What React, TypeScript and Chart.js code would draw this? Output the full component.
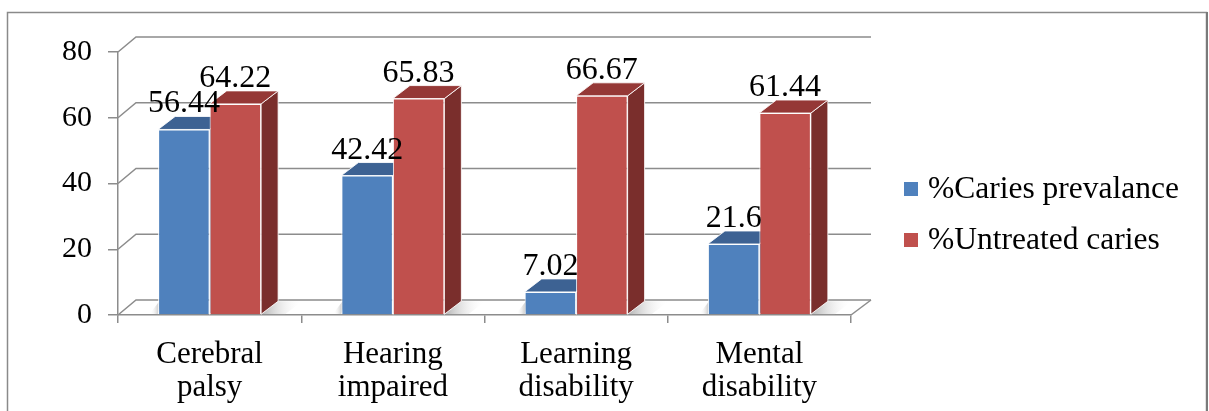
import React, { useEffect, useRef } from "react";
import { Chart, registerables } from "chart.js";

Chart.register(...registerables);

// ---- data ----
const categories: string[][] = [
  ["Cerebral", "palsy"],
  ["Hearing", "impaired"],
  ["Learning", "disability"],
  ["Mental", "disability"],
];
const cariesPrevalence = [56.44, 42.42, 7.02, 21.6];
const untreatedCaries = [64.22, 65.83, 66.67, 61.44];
const seriesLabels = ["%Caries prevalance", "%Untreated caries"];
const yMin = 0;
const yMax = 80;
const yStep = 20;

// ---- styles ----
const FONT = "'Liberation Serif', 'Times New Roman', Times, serif";
const BLUE = "#4F81BD";
const RED = "#C0504D";
const TOPS = ["#3D6293", "#953836"];
const SIDES = ["#3A5E8C", "#7A2E2C"];
const GRID = "#8c8c8c";
const BAR_DX = 17;
const BAR_DY = 13;
const WALL_DX = 18;
const WALL_DY = 15;

const threeD = {
  id: "threeD",
  beforeDraw(chart: any) {
    const { ctx, width, height } = chart;
    ctx.save();
    ctx.fillStyle = "#fff";
    ctx.fillRect(0, 0, width, height);
    ctx.strokeStyle = "#8a8a8a";
    ctx.lineWidth = 1.5;
    ctx.strokeRect(7.5, 12.5, 1199, height + 20);
    ctx.strokeStyle = "#7a7a7a";
    ctx.lineWidth = 2;
    ctx.beginPath();
    ctx.moveTo(1207, 12);
    ctx.lineTo(1207, height);
    ctx.stroke();
    ctx.restore();
  },
  beforeDatasetsDraw(chart: any) {
    const { ctx, chartArea } = chart;
    const { left, right } = chartArea;
    const yS = chart.scales.y;
    ctx.save();
    // back wall + side wall grid lines
    ctx.strokeStyle = GRID;
    ctx.lineWidth = 1.5;
    yS.ticks.forEach((t: any) => {
      const py = yS.getPixelForValue(t.value);
      ctx.beginPath();
      ctx.moveTo(left, py);
      ctx.lineTo(left + WALL_DX, py - WALL_DY);
      ctx.lineTo(right + WALL_DX + 2, py - WALL_DY);
      ctx.stroke();
    });
    const p0 = yS.getPixelForValue(0);
    ctx.beginPath();
    ctx.moveTo(right, p0);
    ctx.lineTo(right + WALL_DX + 2, p0 - WALL_DY);
    ctx.stroke();

    // floor shadows
    const m0 = chart.getDatasetMeta(0);
    const m1 = chart.getDatasetMeta(chart.data.datasets.length - 1);
    m0.data.forEach((b0: any, j: number) => {
      const b1 = m1.data[j];
      const l = b0.x - b0.width / 2;
      const r = b1.x + b1.width / 2;
      const base = b0.base;
      const g = ctx.createLinearGradient(r, 0, r + BAR_DX + 24, 0);
      g.addColorStop(0, "rgba(150,150,150,0.75)");
      g.addColorStop(1, "rgba(255,255,255,0)");
      ctx.fillStyle = g;
      ctx.beginPath();
      ctx.moveTo(r, base);
      ctx.lineTo(r + BAR_DX, base - BAR_DY);
      ctx.lineTo(r + BAR_DX + 24, base - BAR_DY);
      ctx.lineTo(r + 24, base);
      ctx.closePath();
      ctx.fill();
      const g2 = ctx.createLinearGradient(l - 8, 0, l + 2, 0);
      g2.addColorStop(0, "rgba(255,255,255,0)");
      g2.addColorStop(1, "rgba(150,150,150,0.7)");
      ctx.fillStyle = g2;
      ctx.beginPath();
      ctx.moveTo(l - 8, base - 1);
      ctx.lineTo(l + 2, base - BAR_DY - 1);
      ctx.lineTo(l + 4, base - BAR_DY - 1);
      ctx.lineTo(l, base);
      ctx.closePath();
      ctx.fill();
    });

    // bar top + side faces (fronts are drawn by Chart.js afterwards)
    chart.data.datasets.forEach((_ds: any, i: number) => {
      const meta = chart.getDatasetMeta(i);
      meta.data.forEach((bar: any) => {
        const x = bar.x;
        const top = bar.y;
        const base = bar.base;
        const w = bar.width;
        const l = x - w / 2;
        const r = x + w / 2;
        ctx.strokeStyle = "rgba(255,255,255,0.85)";
        ctx.lineWidth = 1;
        // side
        ctx.fillStyle = SIDES[i];
        ctx.beginPath();
        ctx.moveTo(r, top);
        ctx.lineTo(r + BAR_DX, top - BAR_DY);
        ctx.lineTo(r + BAR_DX, base - BAR_DY);
        ctx.lineTo(r, base);
        ctx.closePath();
        ctx.fill();
        ctx.stroke();
        // top
        ctx.fillStyle = TOPS[i];
        ctx.beginPath();
        ctx.moveTo(l, top);
        ctx.lineTo(l + BAR_DX, top - BAR_DY);
        ctx.lineTo(r + BAR_DX, top - BAR_DY);
        ctx.lineTo(r, top);
        ctx.closePath();
        ctx.fill();
        ctx.stroke();
      });
    });
    ctx.restore();
  },
  afterDatasetsDraw(chart: any) {
    const { ctx } = chart;
    ctx.save();
    ctx.fillStyle = "#000";
    ctx.font = `32px ${FONT}`;
    ctx.textAlign = "center";
    ctx.textBaseline = "alphabetic";
    chart.data.datasets.forEach((ds: any, i: number) => {
      const meta = chart.getDatasetMeta(i);
      meta.data.forEach((bar: any, j: number) => {
        ctx.fillText(String(ds.data[j]), bar.x, bar.y - 17);
      });
    });
    // legend
    const lx = chart.chartArea.right + 53;
    const ly = 182;
    ctx.textAlign = "left";
    ctx.font = `31.5px ${FONT}`;
    chart.data.datasets.forEach((ds: any, i: number) => {
      const y = ly + i * 51;
      ctx.fillStyle = ds.backgroundColor;
      ctx.fillRect(lx, y, 14, 14);
      ctx.fillStyle = "#000";
      ctx.fillText(ds.label, lx + 24, y + 16);
    });
    ctx.restore();
  },
};

export default function App() {
  const ref = useRef<HTMLCanvasElement | null>(null);
  useEffect(() => {
    if (!ref.current) return;
    const chart = new Chart(ref.current, {
      type: "bar",
      data: {
        labels: categories,
        datasets: [
          {
            label: seriesLabels[0],
            data: cariesPrevalence,
            backgroundColor: BLUE,
            borderColor: "#ffffff",
            borderWidth: 1,
            categoryPercentage: 0.562,
            barPercentage: 1,
          },
          {
            label: seriesLabels[1],
            data: untreatedCaries,
            backgroundColor: RED,
            borderColor: "#ffffff",
            borderWidth: 1,
            categoryPercentage: 0.562,
            barPercentage: 1,
          },
        ],
      },
      options: {
        responsive: false,
        animation: false,
        devicePixelRatio: 1,
        layout: { padding: { top: 52, right: 358, bottom: 0, left: 0 } },
        plugins: {
          legend: { display: false },
          tooltip: { enabled: false },
        },
        scales: {
          x: {
            offset: true,
            grid: {
              offset: true,
              drawOnChartArea: false,
              drawTicks: true,
              tickLength: 8,
              color: GRID,
              lineWidth: 1.5,
            },
            border: { display: true, color: GRID, width: 1.5 },
            ticks: {
              color: "#000",
              padding: 15,
              maxRotation: 0,
              autoSkip: false,
              font: { family: FONT, size: 31, lineHeight: 1.07 },
            },
            afterFit: (s: any) => {
              s.height = 96;
            },
          },
          y: {
            min: yMin,
            max: yMax,
            ticks: {
              stepSize: yStep,
              color: "#000",
              padding: 16,
              font: { family: FONT, size: 30 },
            },
            grid: {
              drawOnChartArea: false,
              drawTicks: true,
              tickLength: 10,
              color: GRID,
              lineWidth: 1.5,
            },
            border: { display: true, color: GRID, width: 1.5 },
            afterFit: (s: any) => {
              s.width = 118;
            },
          },
        },
      },
      plugins: [threeD],
    } as any);
    return () => chart.destroy();
  }, []);
  return (
    <div
      style={{
        position: "absolute",
        left: 0,
        top: 0,
        width: 1209,
        height: 411,
        background: "#fff",
      }}
    >
      <canvas ref={ref} width={1209} height={411} style={{ display: "block" }} />
    </div>
  );
}
